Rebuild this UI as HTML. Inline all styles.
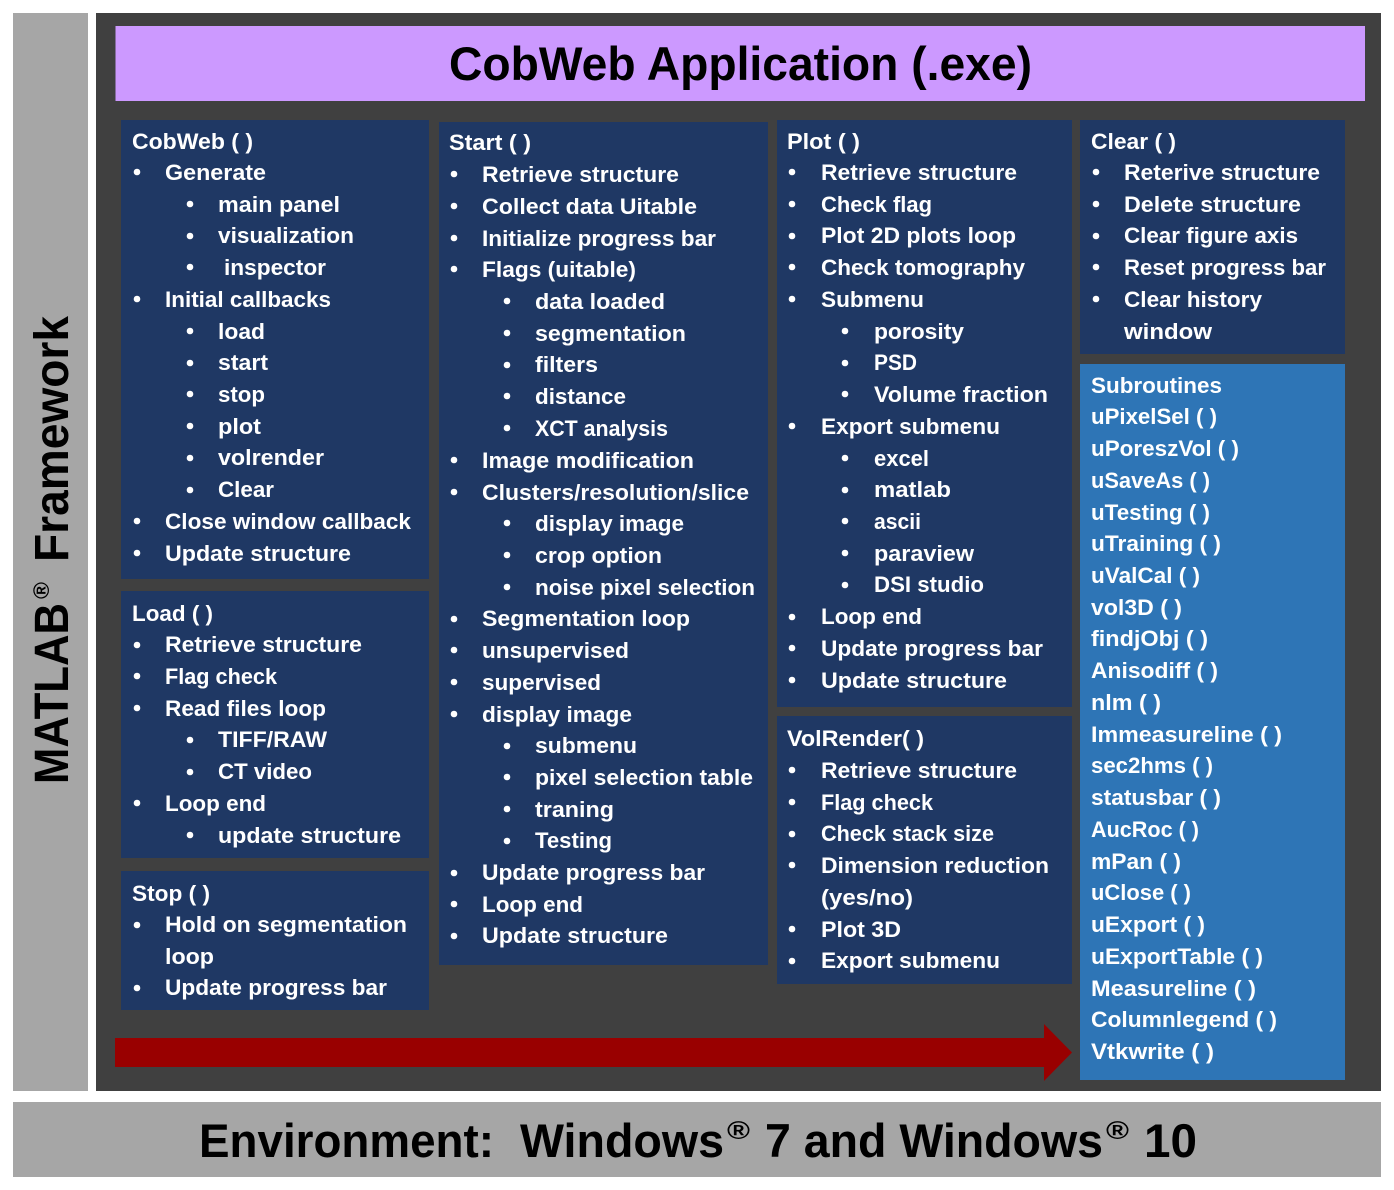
<!DOCTYPE html>
<html><head><meta charset="utf-8"><title>CobWeb Application</title>
<style>
html,body{margin:0;padding:0;background:#fff;width:1394px;height:1190px;overflow:hidden}
svg{display:block}
text{font-family:"Liberation Sans",sans-serif;font-weight:bold;font-size:22px;fill:#fff;white-space:pre}
.b{font-size:47px;fill:#000}
</style></head><body>
<svg width="1394" height="1190" viewBox="0 0 1394 1190" xmlns="http://www.w3.org/2000/svg">
<rect width="1394" height="1190" fill="#fff"/>
<rect x="13" y="13" width="75" height="1078" fill="#a6a6a6"/>
<rect x="96" y="13" width="1285" height="1078" fill="#404040"/>
<rect x="13" y="1102" width="1368" height="75" fill="#a6a6a6"/>
<rect x="115.500" y="26" width="1249.500" height="75" fill="#cc99ff"/>
<g fill="#1f3864">
<rect x="121" y="120" width="308" height="459"/>
<rect x="121" y="591" width="308" height="267"/>
<rect x="121" y="871" width="308" height="139"/>
<rect x="439" y="122" width="329" height="843"/>
<rect x="777" y="120" width="295" height="587"/>
<rect x="777" y="716" width="295" height="268"/>
<rect x="1080" y="120" width="265" height="234"/>
</g>
<rect x="1080" y="364" width="265" height="716" fill="#2e75b6"/>
<polygon points="115,1038 1044,1038 1044,1024 1072,1052.500 1044,1081 1044,1067 115,1067" fill="#990000"/>

<text class="b" x="449" y="80" textLength="583" lengthAdjust="spacingAndGlyphs">CobWeb Application (.exe)</text>
<text class="b" x="199" y="1157" textLength="295" lengthAdjust="spacingAndGlyphs">Environment:</text>
<text class="b" x="520" y="1157" textLength="204" lengthAdjust="spacingAndGlyphs">Windows</text>
<text class="b" x="727" y="1139" style="font-size:25px" textLength="23" lengthAdjust="spacingAndGlyphs">®</text>
<text class="b" x="765" y="1157" textLength="338" lengthAdjust="spacingAndGlyphs">7 and Windows</text>
<text class="b" x="1106" y="1139" style="font-size:25px" textLength="23" lengthAdjust="spacingAndGlyphs">®</text>
<text class="b" x="1144" y="1157" textLength="53" lengthAdjust="spacingAndGlyphs">10</text>
<g transform="translate(68,786) rotate(-90)">
<text class="b" x="2" y="0" style="font-size:48px" textLength="181" lengthAdjust="spacingAndGlyphs">MATLAB</text>
<text class="b" x="187" y="-19" style="font-size:22px" textLength="17" lengthAdjust="spacingAndGlyphs">®</text>
<text class="b" x="224" y="0" style="font-size:48px" textLength="246" lengthAdjust="spacingAndGlyphs">Framework</text>
</g>

<g fill="#fff">
<circle cx="137" cy="172" r="3.300"/><circle cx="190" cy="204" r="3.300"/><circle cx="190" cy="236" r="3.300"/><circle cx="190" cy="267" r="3.300"/><circle cx="137" cy="299" r="3.300"/><circle cx="190" cy="331" r="3.300"/><circle cx="190" cy="363" r="3.300"/><circle cx="190" cy="394" r="3.300"/><circle cx="190" cy="426" r="3.300"/><circle cx="190" cy="458" r="3.300"/><circle cx="190" cy="490" r="3.300"/><circle cx="137" cy="521" r="3.300"/><circle cx="137" cy="553" r="3.300"/>
<circle cx="137" cy="645" r="3.300"/><circle cx="137" cy="676" r="3.300"/><circle cx="137" cy="708" r="3.300"/><circle cx="190" cy="740" r="3.300"/><circle cx="190" cy="772" r="3.300"/><circle cx="137" cy="803" r="3.300"/><circle cx="190" cy="835" r="3.300"/>
<circle cx="137" cy="925" r="3.300"/><circle cx="137" cy="988" r="3.300"/>
<circle cx="454" cy="174" r="3.300"/><circle cx="454" cy="206" r="3.300"/><circle cx="454" cy="238" r="3.300"/><circle cx="454" cy="269" r="3.300"/><circle cx="507" cy="301" r="3.300"/><circle cx="507" cy="333" r="3.300"/><circle cx="507" cy="365" r="3.300"/><circle cx="507" cy="396" r="3.300"/><circle cx="507" cy="428" r="3.300"/><circle cx="454" cy="460" r="3.300"/><circle cx="454" cy="492" r="3.300"/><circle cx="507" cy="523" r="3.300"/><circle cx="507" cy="555" r="3.300"/><circle cx="507" cy="587" r="3.300"/><circle cx="454" cy="619" r="3.300"/><circle cx="454" cy="650" r="3.300"/><circle cx="454" cy="682" r="3.300"/><circle cx="454" cy="714" r="3.300"/><circle cx="507" cy="746" r="3.300"/><circle cx="507" cy="777" r="3.300"/><circle cx="507" cy="809" r="3.300"/><circle cx="507" cy="841" r="3.300"/><circle cx="454" cy="873" r="3.300"/><circle cx="454" cy="904" r="3.300"/><circle cx="454" cy="936" r="3.300"/>
<circle cx="792" cy="172" r="3.300"/><circle cx="792" cy="204" r="3.300"/><circle cx="792" cy="236" r="3.300"/><circle cx="792" cy="267" r="3.300"/><circle cx="792" cy="299" r="3.300"/><circle cx="845" cy="331" r="3.300"/><circle cx="845" cy="363" r="3.300"/><circle cx="845" cy="394" r="3.300"/><circle cx="792" cy="426" r="3.300"/><circle cx="845" cy="458" r="3.300"/><circle cx="845" cy="490" r="3.300"/><circle cx="845" cy="521" r="3.300"/><circle cx="845" cy="553" r="3.300"/><circle cx="845" cy="585" r="3.300"/><circle cx="792" cy="617" r="3.300"/><circle cx="792" cy="648" r="3.300"/><circle cx="792" cy="680" r="3.300"/>
<circle cx="792" cy="770" r="3.300"/><circle cx="792" cy="802" r="3.300"/><circle cx="792" cy="834" r="3.300"/><circle cx="792" cy="865" r="3.300"/><circle cx="792" cy="929" r="3.300"/><circle cx="792" cy="961" r="3.300"/>
<circle cx="1096" cy="172" r="3.300"/><circle cx="1096" cy="204" r="3.300"/><circle cx="1096" cy="236" r="3.300"/><circle cx="1096" cy="267" r="3.300"/><circle cx="1096" cy="299" r="3.300"/>
</g>

<!-- CobWeb -->
<text x="132" y="149" textLength="121" lengthAdjust="spacingAndGlyphs">CobWeb ( )</text>
<text x="165" y="180" textLength="101" lengthAdjust="spacingAndGlyphs">Generate</text>
<text x="218" y="212" textLength="122" lengthAdjust="spacingAndGlyphs">main panel</text>
<text x="218" y="243" textLength="136" lengthAdjust="spacingAndGlyphs">visualization</text>
<text x="224" y="275" textLength="102" lengthAdjust="spacingAndGlyphs">inspector</text>
<text x="165" y="307" textLength="166" lengthAdjust="spacingAndGlyphs">Initial callbacks</text>
<text x="218" y="339" textLength="47" lengthAdjust="spacingAndGlyphs">load</text>
<text x="218" y="370" textLength="50" lengthAdjust="spacingAndGlyphs">start</text>
<text x="218" y="402" textLength="47" lengthAdjust="spacingAndGlyphs">stop</text>
<text x="218" y="434" textLength="43" lengthAdjust="spacingAndGlyphs">plot</text>
<text x="218" y="465" textLength="106" lengthAdjust="spacingAndGlyphs">volrender</text>
<text x="218" y="497" textLength="56" lengthAdjust="spacingAndGlyphs">Clear</text>
<text x="165" y="529" textLength="246" lengthAdjust="spacingAndGlyphs">Close window callback</text>
<text x="165" y="561" textLength="186" lengthAdjust="spacingAndGlyphs">Update structure</text>
<!-- Load -->
<text x="132" y="621" textLength="81" lengthAdjust="spacingAndGlyphs">Load ( )</text>
<text x="165" y="652" textLength="197" lengthAdjust="spacingAndGlyphs">Retrieve structure</text>
<text x="165" y="684" textLength="112" lengthAdjust="spacingAndGlyphs">Flag check</text>
<text x="165" y="716" textLength="161" lengthAdjust="spacingAndGlyphs">Read files loop</text>
<text x="218" y="747" textLength="109" lengthAdjust="spacingAndGlyphs">TIFF/RAW</text>
<text x="218" y="779" textLength="94" lengthAdjust="spacingAndGlyphs">CT video</text>
<text x="165" y="811" textLength="101" lengthAdjust="spacingAndGlyphs">Loop end</text>
<text x="218" y="843" textLength="183" lengthAdjust="spacingAndGlyphs">update structure</text>
<!-- Stop -->
<text x="132" y="901" textLength="78" lengthAdjust="spacingAndGlyphs">Stop ( )</text>
<text x="165" y="932" textLength="242" lengthAdjust="spacingAndGlyphs">Hold on segmentation</text>
<text x="165" y="964" textLength="49" lengthAdjust="spacingAndGlyphs">loop</text>
<text x="165" y="995" textLength="222" lengthAdjust="spacingAndGlyphs">Update progress bar</text>
<!-- Start -->
<text x="449" y="150" textLength="82" lengthAdjust="spacingAndGlyphs">Start ( )</text>
<text x="482" y="182" textLength="197" lengthAdjust="spacingAndGlyphs">Retrieve structure</text>
<text x="482" y="214" textLength="215" lengthAdjust="spacingAndGlyphs">Collect data Uitable</text>
<text x="482" y="246" textLength="234" lengthAdjust="spacingAndGlyphs">Initialize progress bar</text>
<text x="482" y="277" textLength="154" lengthAdjust="spacingAndGlyphs">Flags (uitable)</text>
<text x="535" y="309" textLength="130" lengthAdjust="spacingAndGlyphs">data loaded</text>
<text x="535" y="341" textLength="151" lengthAdjust="spacingAndGlyphs">segmentation</text>
<text x="535" y="372" textLength="63" lengthAdjust="spacingAndGlyphs">filters</text>
<text x="535" y="404" textLength="91" lengthAdjust="spacingAndGlyphs">distance</text>
<text x="535" y="436" textLength="133" lengthAdjust="spacingAndGlyphs">XCT analysis</text>
<text x="482" y="468" textLength="212" lengthAdjust="spacingAndGlyphs">Image modification</text>
<text x="482" y="500" textLength="267" lengthAdjust="spacingAndGlyphs">Clusters/resolution/slice</text>
<text x="535" y="531" textLength="149" lengthAdjust="spacingAndGlyphs">display image</text>
<text x="535" y="563" textLength="127" lengthAdjust="spacingAndGlyphs">crop option</text>
<text x="535" y="595" textLength="220" lengthAdjust="spacingAndGlyphs">noise pixel selection</text>
<text x="482" y="626" textLength="208" lengthAdjust="spacingAndGlyphs">Segmentation loop</text>
<text x="482" y="658" textLength="147" lengthAdjust="spacingAndGlyphs">unsupervised</text>
<text x="482" y="690" textLength="119" lengthAdjust="spacingAndGlyphs">supervised</text>
<text x="482" y="722" textLength="150" lengthAdjust="spacingAndGlyphs">display image</text>
<text x="535" y="753" textLength="102" lengthAdjust="spacingAndGlyphs">submenu</text>
<text x="535" y="785" textLength="218" lengthAdjust="spacingAndGlyphs">pixel selection table</text>
<text x="535" y="817" textLength="79" lengthAdjust="spacingAndGlyphs">traning</text>
<text x="535" y="848" textLength="77" lengthAdjust="spacingAndGlyphs">Testing</text>
<text x="482" y="880" textLength="223" lengthAdjust="spacingAndGlyphs">Update progress bar</text>
<text x="482" y="912" textLength="101" lengthAdjust="spacingAndGlyphs">Loop end</text>
<text x="482" y="943" textLength="186" lengthAdjust="spacingAndGlyphs">Update structure</text>
<!-- Plot -->
<text x="787" y="149" textLength="73" lengthAdjust="spacingAndGlyphs">Plot ( )</text>
<text x="821" y="180" textLength="196" lengthAdjust="spacingAndGlyphs">Retrieve structure</text>
<text x="821" y="212" textLength="111" lengthAdjust="spacingAndGlyphs">Check flag</text>
<text x="821" y="243" textLength="195" lengthAdjust="spacingAndGlyphs">Plot 2D plots loop</text>
<text x="821" y="275" textLength="204" lengthAdjust="spacingAndGlyphs">Check tomography</text>
<text x="821" y="307" textLength="103" lengthAdjust="spacingAndGlyphs">Submenu</text>
<text x="874" y="339" textLength="90" lengthAdjust="spacingAndGlyphs">porosity</text>
<text x="874" y="370" textLength="43" lengthAdjust="spacingAndGlyphs">PSD</text>
<text x="874" y="402" textLength="174" lengthAdjust="spacingAndGlyphs">Volume fraction</text>
<text x="821" y="434" textLength="179" lengthAdjust="spacingAndGlyphs">Export submenu</text>
<text x="874" y="466" textLength="55" lengthAdjust="spacingAndGlyphs">excel</text>
<text x="874" y="497" textLength="77" lengthAdjust="spacingAndGlyphs">matlab</text>
<text x="874" y="529" textLength="47" lengthAdjust="spacingAndGlyphs">ascii</text>
<text x="874" y="561" textLength="100" lengthAdjust="spacingAndGlyphs">paraview</text>
<text x="874" y="592" textLength="110" lengthAdjust="spacingAndGlyphs">DSI studio</text>
<text x="821" y="624" textLength="101" lengthAdjust="spacingAndGlyphs">Loop end</text>
<text x="821" y="656" textLength="222" lengthAdjust="spacingAndGlyphs">Update progress bar</text>
<text x="821" y="688" textLength="186" lengthAdjust="spacingAndGlyphs">Update structure</text>
<!-- VolRender -->
<text x="787" y="746" textLength="137" lengthAdjust="spacingAndGlyphs">VolRender( )</text>
<text x="821" y="778" textLength="196" lengthAdjust="spacingAndGlyphs">Retrieve structure</text>
<text x="821" y="810" textLength="112" lengthAdjust="spacingAndGlyphs">Flag check</text>
<text x="821" y="841" textLength="173" lengthAdjust="spacingAndGlyphs">Check stack size</text>
<text x="821" y="873" textLength="228" lengthAdjust="spacingAndGlyphs">Dimension reduction</text>
<text x="821" y="905" textLength="92" lengthAdjust="spacingAndGlyphs">(yes/no)</text>
<text x="821" y="937" textLength="80" lengthAdjust="spacingAndGlyphs">Plot 3D</text>
<text x="821" y="968" textLength="179" lengthAdjust="spacingAndGlyphs">Export submenu</text>
<!-- Clear -->
<text x="1091" y="149" textLength="85" lengthAdjust="spacingAndGlyphs">Clear ( )</text>
<text x="1124" y="180" textLength="196" lengthAdjust="spacingAndGlyphs">Reterive structure</text>
<text x="1124" y="212" textLength="177" lengthAdjust="spacingAndGlyphs">Delete structure</text>
<text x="1124" y="243" textLength="174" lengthAdjust="spacingAndGlyphs">Clear figure axis</text>
<text x="1124" y="275" textLength="202" lengthAdjust="spacingAndGlyphs">Reset progress bar</text>
<text x="1124" y="307" textLength="138" lengthAdjust="spacingAndGlyphs">Clear history</text>
<text x="1124" y="339" textLength="88" lengthAdjust="spacingAndGlyphs">window</text>
<!-- Subroutines -->
<text x="1091" y="393" textLength="131" lengthAdjust="spacingAndGlyphs">Subroutines</text>
<text x="1091" y="424" textLength="126" lengthAdjust="spacingAndGlyphs">uPixelSel ( )</text>
<text x="1091" y="456" textLength="148" lengthAdjust="spacingAndGlyphs">uPoreszVol ( )</text>
<text x="1091" y="488" textLength="119" lengthAdjust="spacingAndGlyphs">uSaveAs ( )</text>
<text x="1091" y="520" textLength="119" lengthAdjust="spacingAndGlyphs">uTesting ( )</text>
<text x="1091" y="551" textLength="130" lengthAdjust="spacingAndGlyphs">uTraining ( )</text>
<text x="1091" y="583" textLength="109" lengthAdjust="spacingAndGlyphs">uValCal ( )</text>
<text x="1091" y="615" textLength="91" lengthAdjust="spacingAndGlyphs">vol3D ( )</text>
<text x="1091" y="646" textLength="117" lengthAdjust="spacingAndGlyphs">findjObj ( )</text>
<text x="1091" y="678" textLength="127" lengthAdjust="spacingAndGlyphs">Anisodiff ( )</text>
<text x="1091" y="710" textLength="70" lengthAdjust="spacingAndGlyphs">nlm ( )</text>
<text x="1091" y="742" textLength="191" lengthAdjust="spacingAndGlyphs">Immeasureline ( )</text>
<text x="1091" y="773" textLength="122" lengthAdjust="spacingAndGlyphs">sec2hms ( )</text>
<text x="1091" y="805" textLength="130" lengthAdjust="spacingAndGlyphs">statusbar ( )</text>
<text x="1091" y="837" textLength="108" lengthAdjust="spacingAndGlyphs">AucRoc ( )</text>
<text x="1091" y="869" textLength="90" lengthAdjust="spacingAndGlyphs">mPan ( )</text>
<text x="1091" y="900" textLength="100" lengthAdjust="spacingAndGlyphs">uClose ( )</text>
<text x="1091" y="932" textLength="114" lengthAdjust="spacingAndGlyphs">uExport ( )</text>
<text x="1091" y="964" textLength="172" lengthAdjust="spacingAndGlyphs">uExportTable ( )</text>
<text x="1091" y="996" textLength="165" lengthAdjust="spacingAndGlyphs">Measureline ( )</text>
<text x="1091" y="1027" textLength="186" lengthAdjust="spacingAndGlyphs">Columnlegend ( )</text>
<text x="1091" y="1059" textLength="123" lengthAdjust="spacingAndGlyphs">Vtkwrite ( )</text>
</svg>
</body></html>
